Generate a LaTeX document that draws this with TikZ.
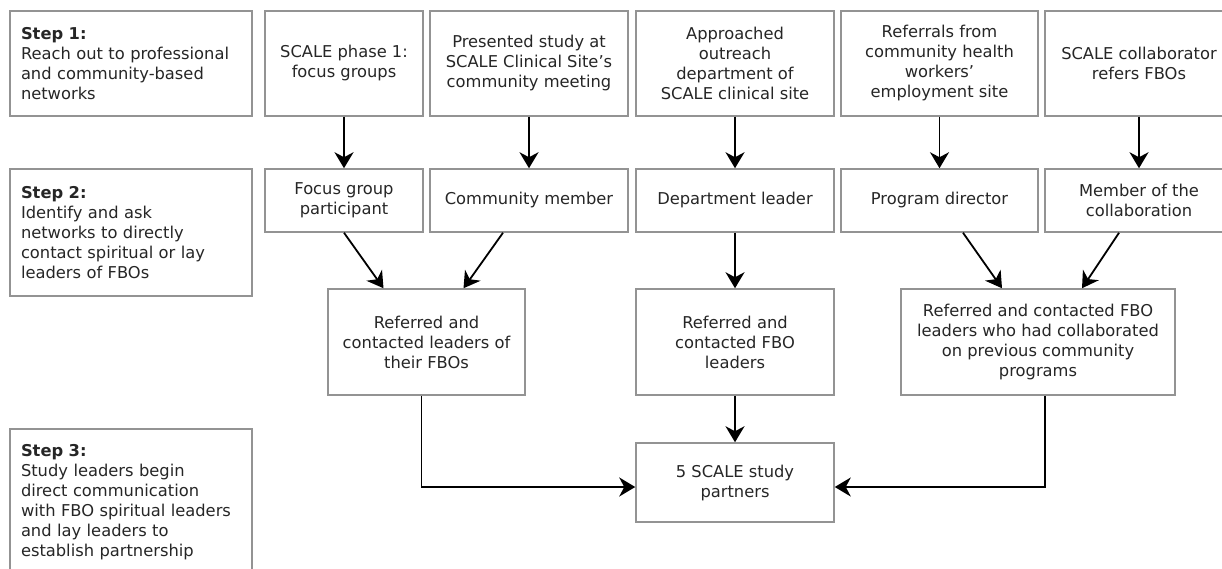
\documentclass[tikz,border=0pt]{standalone}
\usepackage{fontspec}
\setmainfont{DejaVu Sans}
\usetikzlibrary{arrows.meta}
\begin{document}
\begin{tikzpicture}[
    x=1pt, y=-1pt,
    box/.style={rectangle, draw=gray!85, line width=1.5pt, fill=white, align=center, inner sep=0pt, text=black!85, font=\fontsize{16.3}{20}\selectfont},
    stepbox/.style={box, align=left, text width=220pt, minimum width=242pt},
    topbox/.style={box, minimum height=105pt},
    midbox/.style={box, minimum height=63pt},
    lowbox/.style={box, minimum height=106pt},
    arr/.style={-{Stealth[length=16pt, width=19pt, inset=5pt]}, line width=1.8pt, black}
]
\useasboundingbox (0,0) rectangle (1222,569);

% steps
\node[stepbox, minimum height=105pt] (step1) at (131,63.5) {\textbf{Step 1:}\\Reach out to professional\\and community-based\\networks};
\node[stepbox, minimum height=127pt] (step2) at (131,232.5) {\textbf{Step 2:}\\Identify and ask\\networks to directly\\contact spiritual or lay\\leaders of FBOs};
\node[stepbox, minimum height=146pt] (step3) at (131,502) {\textbf{Step 3:}\\Study leaders begin\\direct communication\\with FBO spiritual leaders\\and lay leaders to\\establish partnership};

% networks
\node[topbox, minimum width=158pt] (phase) at (344,63.5) {SCALE phase 1:\\focus groups};
\node[topbox, minimum width=198pt] (meeting) at (529,63.5) {Presented study at\\SCALE Clinical Site’s\\community meeting};
\node[topbox, minimum width=198pt] (outreach) at (735,63.5) {Approached\\outreach\\department of\\SCALE clinical site};
\node[topbox, minimum width=197pt] (workers) at (939.5,63.5) {Referrals from\\community health\\workers’\\employment site};
\node[topbox, minimum width=188pt] (collab) at (1139,63.5) {SCALE collaborator\\refers FBOs};

% contacts
\node[midbox, minimum width=158pt] (fgpart) at (344,200.5) {Focus group\\participant};
\node[midbox, minimum width=198pt] (cmember) at (529,200.5) {Community member};
\node[midbox, minimum width=198pt] (deptlead) at (735,200.5) {Department leader};
\node[midbox, minimum width=197pt] (progdir) at (939.5,200.5) {Program director};
\node[midbox, minimum width=188pt] (collmember) at (1139,200.5) {Member of the\\collaboration};

% referrals
\node[lowbox, minimum width=197pt] (reftheir) at (426.5,342) {Referred and\\contacted leaders of\\their FBOs};
\node[lowbox, minimum width=198pt] (reffbo) at (735,342) {Referred and\\contacted FBO\\leaders};
\node[lowbox, minimum width=274pt] (refprev) at (1038,342) {Referred and contacted FBO\\leaders who had collaborated\\on previous community\\programs};

\node[box, minimum width=198pt, minimum height=79pt] (partners) at (735,482.5) {5 SCALE study\\partners};

\draw[arr] (phase) -- (fgpart);
\draw[arr] (meeting) -- (cmember);
\draw[arr] (outreach) -- (deptlead);
\draw[arr] (workers) -- (progdir);
\draw[arr] (collab) -- (collmember);

\draw[arr] (fgpart.south) -- ([xshift=-43pt]reftheir.north);
\draw[arr] ([xshift=-26pt]cmember.south) -- ([xshift=37pt]reftheir.north);
\draw[arr] (deptlead) -- (reffbo);
\draw[arr] ([xshift=23.5pt]progdir.south) -- ([xshift=-36pt]refprev.north);
\draw[arr] ([xshift=-20pt]collmember.south) -- ([xshift=44pt]refprev.north);

\draw[arr] (reffbo) -- (partners);
\draw[arr] ([xshift=-5pt]reftheir.south) |- ([yshift=-4.5pt]partners.west);
\draw[arr] ([xshift=7pt]refprev.south) |- ([yshift=-4.5pt]partners.east);
\end{tikzpicture}
\end{document}
